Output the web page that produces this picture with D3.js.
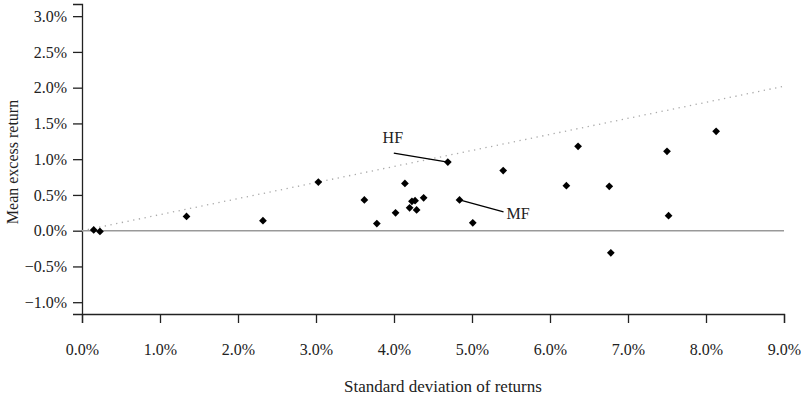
<!DOCTYPE html>
<html>
<head>
<meta charset="utf-8">
<script src="https://cdn.jsdelivr.net/npm/d3@7"></script>
<style>
  body { margin: 0; background: #fff; }
</style>
</head>
<body>
<div id="chart"></div>
<script>
const svgWidth = 801;
const svgHeight = 396;
const serif = "'Liberation Serif', 'Times New Roman', serif";

// standard deviation of returns (%), mean excess return (%)
const stdDev = [0.15, 0.23, 1.34, 2.32, 3.03, 3.62, 3.78, 4.02, 4.14, 4.20, 4.23, 4.27, 4.29, 4.38,
  4.69, 4.84, 5.01, 5.40, 6.21, 6.36, 6.76, 6.78, 7.50, 7.52, 8.13];
const meanExcess = [0.01, -0.01, 0.20, 0.14, 0.68, 0.43, 0.10, 0.25, 0.66, 0.32, 0.41, 0.42, 0.29, 0.46,
  0.96, 0.43, 0.11, 0.84, 0.63, 1.18, 0.62, -0.31, 1.11, 0.21, 1.39];

// labelled points
const labelNames = ["HF", "MF"];
const labelIndex = [14, 15];

const xTicks = [0, 1, 2, 3, 4, 5, 6, 7, 8, 9];
const yTicks = [-1.0, -0.5, 0.0, 0.5, 1.0, 1.5, 2.0, 2.5, 3.0];

// slope of the dotted line, drawn through the best point
const bestSharpe = meanExcess[4] / stdDev[4];

const margin = { top: 4, right: 17, bottom: 82, left: 82 };
const width = svgWidth - margin.left - margin.right;
const height = svgHeight - margin.top - margin.bottom;

const svg = d3.select("#chart").append("svg")
  .attr("width", svgWidth)
  .attr("height", svgHeight);

const chartGroup = svg.append("g")
  .attr("transform", `translate(${margin.left}, ${margin.top})`);

const xScale = d3.scaleLinear().domain([0, 9]).range([0, width]);
const yScale = d3.scaleLinear().domain([-1.165, 3.17]).range([height, 0]);

const pct = d => d3.format(".1f")(d).replace("-", "\u2212") + "%";

// axes
const bottomAxis = d3.axisBottom(xScale).tickValues(xTicks).tickFormat(pct).tickSize(9).tickPadding(21);
const leftAxis = d3.axisLeft(yScale).tickValues(yTicks).tickFormat(pct).tickSize(9).tickPadding(6);

const xAxis = chartGroup.append("g")
  .attr("transform", `translate(0, ${height})`)
  .call(bottomAxis);
const yAxis = chartGroup.append("g").call(leftAxis);

[xAxis, yAxis].forEach(ax => {
  ax.attr("font-family", serif).attr("font-size", 16);
  ax.select(".domain").attr("stroke", "#222").attr("stroke-width", 1.3);
  ax.selectAll(".tick line").attr("stroke", "#222").attr("stroke-width", 1.3);
  ax.selectAll("text").attr("fill", "#222");
});

// zero line
chartGroup.append("line")
  .attr("x1", 0).attr("x2", width)
  .attr("y1", yScale(0)).attr("y2", yScale(0))
  .attr("stroke", "#999").attr("stroke-width", 1.5);

// dotted capital line
chartGroup.append("line")
  .attr("x1", xScale(0)).attr("y1", yScale(0))
  .attr("x2", xScale(9)).attr("y2", yScale(9 * bestSharpe))
  .attr("stroke", "#aaa").attr("stroke-width", 1.3)
  .attr("stroke-dasharray", "1.3,4.5");

// points
const points = stdDev.map((s, i) => ({ x: s, y: meanExcess[i] }));
chartGroup.selectAll("path.pt")
  .data(points)
  .enter()
  .append("path")
  .attr("class", "pt")
  .attr("d", d3.symbol().type(d3.symbolSquare).size(30))
  .attr("transform", d => `translate(${xScale(d.x)}, ${yScale(d.y)}) rotate(45)`)
  .attr("fill", "#000");

// labels with leader lines
const labelOffsets = {
  HF: { line: [-54, -9], text: [-55, -19], anchor: "middle" },
  MF: { line: [44, 12], text: [47, 19], anchor: "start" }
};
labelNames.forEach((name, k) => {
  const p = points[labelIndex[k]];
  const px = xScale(p.x), py = yScale(p.y);
  const o = labelOffsets[name];
  chartGroup.append("line")
    .attr("x1", px).attr("y1", py)
    .attr("x2", px + o.line[0]).attr("y2", py + o.line[1])
    .attr("stroke", "#000").attr("stroke-width", 1.3);
  chartGroup.append("text")
    .attr("x", px + o.text[0]).attr("y", py + o.text[1])
    .attr("text-anchor", o.anchor)
    .attr("font-family", serif)
    .attr("font-size", 16)
    .attr("fill", "#222")
    .text(name);
});

// axis titles
chartGroup.append("text")
  .attr("x", width / 2 + 10)
  .attr("y", height + 78)
  .attr("text-anchor", "middle")
  .attr("font-family", serif)
  .attr("font-size", 17)
  .attr("fill", "#222")
  .text("Standard deviation of returns");

chartGroup.append("text")
  .attr("transform", "rotate(-90)")
  .attr("x", -(svgHeight / 2 - 40))
  .attr("y", -64)
  .attr("text-anchor", "middle")
  .attr("font-family", serif)
  .attr("font-size", 16)
  .attr("fill", "#222")
  .text("Mean excess return");
</script>
</body>
</html>
